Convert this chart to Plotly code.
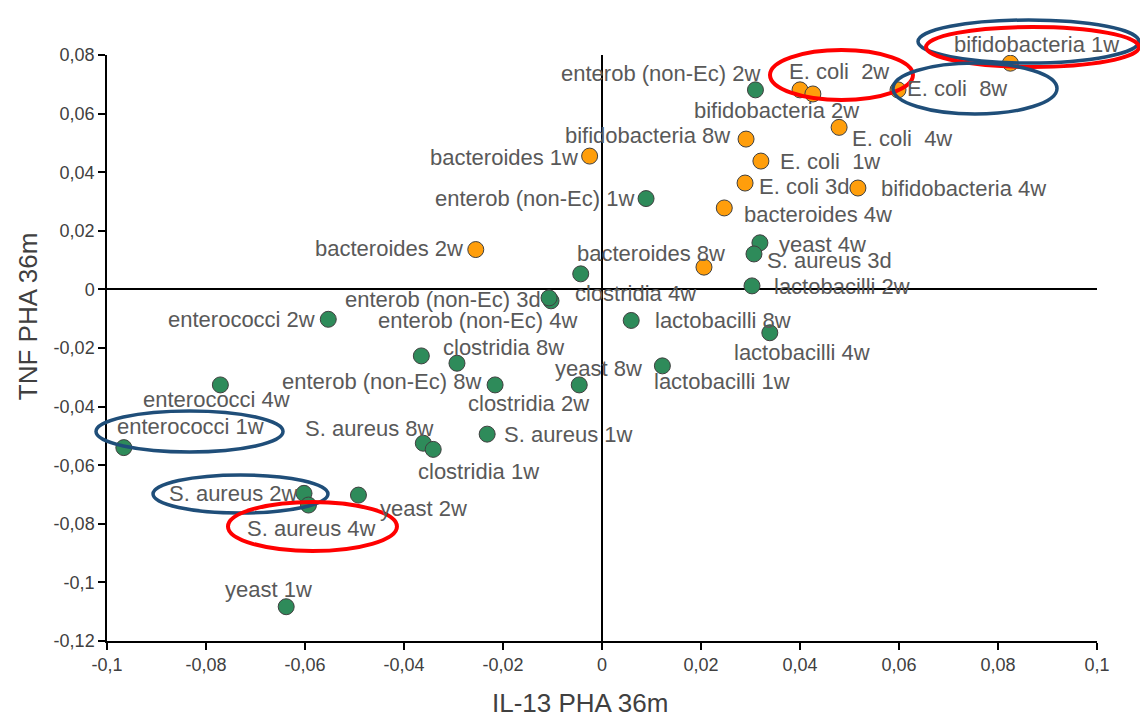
import plotly.graph_objects as go

# ---------------- data ----------------
orange_names = ["bifidobacteria 1w", "E. coli  2w", "bifidobacteria 2w", "E. coli  8w",
                "E. coli  4w", "bifidobacteria 8w", "bacteroides 1w", "E. coli  1w",
                "E. coli 3d", "bifidobacteria 4w", "bacteroides 4w", "bacteroides 2w",
                "bacteroides 8w"]
orange_x = [0.0825, 0.0400, 0.0426, 0.0598, 0.0479, 0.0291, -0.0025, 0.0321,
            0.0289, 0.0517, 0.0247, -0.0255, 0.0206]
orange_y = [0.0772, 0.0681, 0.0667, 0.0681, 0.0553, 0.0513, 0.0455, 0.0438,
            0.0363, 0.0346, 0.0278, 0.0136, 0.0076]

green_names = ["enterob (non-Ec) 2w", "enterob (non-Ec) 1w", "yeast 4w", "S. aureus 3d",
               "lactobacilli 2w", "clostridia 4w", "enterob (non-Ec) 3d", "enterob (non-Ec) 4w",
               "enterococci 2w", "lactobacilli 8w", "lactobacilli 4w", "clostridia 8w",
               "enterob (non-Ec) 8w", "clostridia 2w", "yeast 8w", "lactobacilli 1w",
               "enterococci 4w", "enterococci 1w", "S. aureus 8w", "clostridia 1w",
               "S. aureus 1w", "S. aureus 2w", "S. aureus 4w", "yeast 2w", "yeast 1w"]
green_x = [0.0310, 0.0089, 0.0319, 0.0307, 0.0303, -0.0043, -0.0103, -0.0107,
           -0.0553, 0.0059, 0.0339, -0.0365, -0.0293, -0.0216, -0.0046, 0.0122,
           -0.0771, -0.0966, -0.0361, -0.0341, -0.0232, -0.0602, -0.0593, -0.0492, -0.0638]
green_y = [0.0681, 0.0310, 0.0159, 0.0121, 0.0012, 0.0053, -0.0039, -0.0029,
           -0.0102, -0.0106, -0.0148, -0.0227, -0.0252, -0.0326, -0.0326, -0.0261,
           -0.0326, -0.0540, -0.0525, -0.0546, -0.0494, -0.0696, -0.0736, -0.0702, -0.1083]

x_ticks = [-0.1, -0.08, -0.06, -0.04, -0.02, 0, 0.02, 0.04, 0.06, 0.08, 0.1]
x_tick_labels = ["-0,1", "-0,08", "-0,06", "-0,04", "-0,02", "0", "0,02", "0,04", "0,06", "0,08", "0,1"]
y_ticks = [0.08, 0.06, 0.04, 0.02, 0, -0.02, -0.04, -0.06, -0.08, -0.1, -0.12]
y_tick_labels = ["0,08", "0,06", "0,04", "0,02", "0", "-0,02", "-0,04", "-0,06", "-0,08", "-0,1", "-0,12"]

x_title = "IL-13 PHA 36m"
y_title = "TNF PHA 36m"

# ---------------- label placement (pixel offsets of label centre from its point; +dy = down) ----------------
label_offsets = {
    "bifidobacteria 1w": (26, -19), "E. coli  2w": (39, -18), "bifidobacteria 2w": (-36, 17),
    "E. coli  8w": (59, -1), "E. coli  4w": (63, 11), "bifidobacteria 8w": (-99, -4),
    "bacteroides 1w": (-86, 1), "E. coli  1w": (69, 0), "E. coli 3d": (59, 3),
    "bifidobacteria 4w": (106, 0), "bacteroides 4w": (94, 7), "bacteroides 2w": (-87, -1),
    "bacteroides 8w": (-53, -14),
    "enterob (non-Ec) 2w": (-95, -16), "enterob (non-Ec) 1w": (-112, 0), "yeast 4w": (63, 2),
    "S. aureus 3d": (76, 7), "lactobacilli 2w": (90, 1), "clostridia 4w": (55, 20),
    "enterob (non-Ec) 3d": (-108, -1), "enterob (non-Ec) 4w": (-72, 23),
    "enterococci 2w": (-87, 0), "lactobacilli 8w": (92, 0), "lactobacilli 4w": (32, 20),
    "clostridia 8w": (82, -8), "enterob (non-Ec) 8w": (-75, 18), "clostridia 2w": (33, 19),
    "yeast 8w": (19, -16), "lactobacilli 1w": (60, 16), "enterococci 4w": (-4, 15),
    "enterococci 1w": (67, -21), "S. aureus 8w": (-54, -15), "clostridia 1w": (45, 22),
    "S. aureus 1w": (81, 0), "S. aureus 2w": (-71, 0), "S. aureus 4w": (3, 23),
    "yeast 2w": (65, 13), "yeast 1w": (-18, -17),
}

FONT = "Liberation Sans"
LABEL_COLOR = "#595959"
AXIS_TEXT = "#404040"
ORANGE = "#FF9E0B"
GREEN = "#2E8B5A"
EDGE = "#404040"

fig = go.Figure()
for names, xs, ys, col in [(green_names, green_x, green_y, GREEN),
                           (orange_names, orange_x, orange_y, ORANGE)]:
    fig.add_trace(go.Scatter(
        x=xs, y=ys, mode="markers", text=names, hoverinfo="text",
        marker=dict(size=16, color=col, line=dict(color=EDGE, width=1)),
        showlegend=False,
    ))

annotations = []
for names, xs, ys in [(orange_names, orange_x, orange_y), (green_names, green_x, green_y)]:
    for n, xv, yv in zip(names, xs, ys):
        dx, dy = label_offsets[n]
        annotations.append(dict(
            x=xv, y=yv, xref="x", yref="y", text=n, showarrow=False,
            xanchor="center", yanchor="middle", xshift=dx, yshift=-dy,
            font=dict(family=FONT, size=22, color=LABEL_COLOR),
        ))

# axis titles
annotations.append(dict(x=0.478, y=-0.106, xref="paper", yref="paper", text=x_title,
                        showarrow=False, xanchor="center", yanchor="middle",
                        font=dict(family=FONT, size=26, color=AXIS_TEXT)))
annotations.append(dict(x=-0.079, y=0.554, xref="paper", yref="paper", text=y_title,
                        showarrow=False, xanchor="center", yanchor="middle", textangle=-90,
                        font=dict(family=FONT, size=26, color=AXIS_TEXT)))

# hand-drawn highlight ellipses (paper coordinates)
RED = "#FF0000"
BLUE = "#1F4E79"
ellipses = [
    (0.6697, 0.8141, 0.9232, 1.0085, RED, 4),
    (0.8192, 1.0424, 0.9863, 1.0597, BLUE, 3.5),
    (0.8273, 1.0424, 0.9795, 1.0478, RED, 4),
    (0.7939, 0.9596, 0.8993, 0.9863, BLUE, 3.5),
    (-0.0111, 0.1778, 0.3225, 0.3925, BLUE, 3.5),
    (0.0465, 0.2232, 0.2184, 0.2833, BLUE, 3.5),
    (0.1222, 0.2929, 0.1536, 0.2372, RED, 4),
]
shapes = [dict(type="circle", xref="paper", yref="paper", x0=a, x1=b, y0=c, y1=d,
               line=dict(color=col, width=w), fillcolor="rgba(0,0,0,0)", layer="above")
          for a, b, c, d, col, w in ellipses]

axis_common = dict(
    showgrid=False, zeroline=True, zerolinecolor="#000000", zerolinewidth=1.5,
    showline=True, linecolor="#000000", linewidth=1.5,
    ticks="outside", ticklen=7, tickwidth=1.5, tickcolor="#000000",
    tickfont=dict(family=FONT, size=18, color=AXIS_TEXT),
)

fig.update_layout(
    width=1140, height=720, autosize=False,
    margin=dict(l=107, r=43, t=55, b=79),
    paper_bgcolor="white", plot_bgcolor="white",
    xaxis=dict(range=[-0.1, 0.1], tickmode="array", tickvals=x_ticks, ticktext=x_tick_labels,
               **axis_common),
    yaxis=dict(range=[-0.12, 0.08], tickmode="array", tickvals=y_ticks, ticktext=y_tick_labels,
               **axis_common),
    annotations=annotations,
    shapes=shapes,
    showlegend=False,
)

fig.write_html("out.html", config={"displayModeBar": False},
               post_script="document.body.style.margin='0';document.body.style.overflow='hidden';")
